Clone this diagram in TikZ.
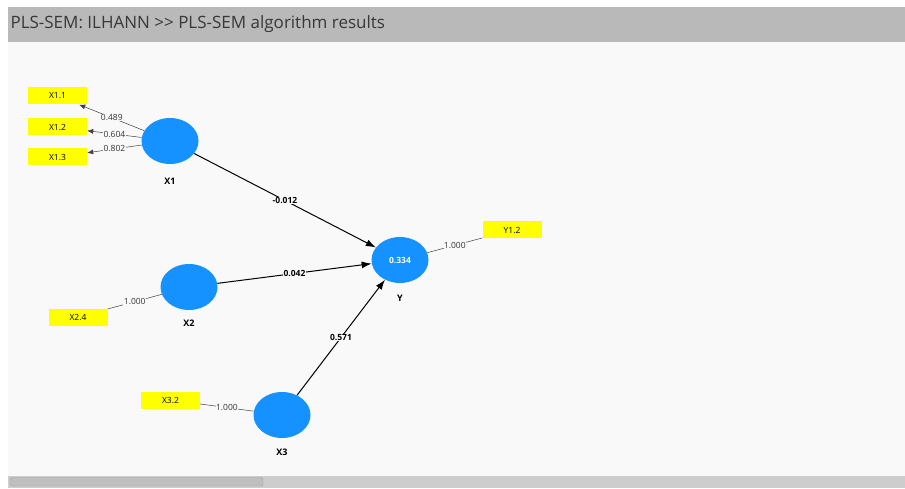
\documentclass[tikz,border=0pt]{standalone}
\usepackage{fontspec}
\setmainfont{Open Sans}
\usetikzlibrary{shapes.geometric,arrows.meta}

\begin{document}
\begin{tikzpicture}[x=1pt,y=-1pt,
	latent/.style={ellipse,fill=plsblue,minimum width=57pt,minimum height=46pt,inner sep=0pt,text=white,font=\bfseries\fontsize{8.5}{9}\selectfont},
	indicator/.style={fill=plsyellow,minimum width=59pt,minimum height=17pt,inner sep=0pt,font=\fontsize{8.5}{9}\selectfont},
	caption/.style={font=\bfseries\fontsize{9}{10}\selectfont},
	weight/.style={fill=canvas,inner sep=0.4pt,font=\fontsize{8.5}{9}\selectfont,text=black!80},
	coef/.style={fill=canvas,inner sep=0.4pt,font=\bfseries\fontsize{8.5}{9}\selectfont},
	outer/.style={draw=black!75,line width=0.5pt},
	inner/.style={draw=black,line width=1pt,-{Latex[length=10pt,width=7pt]}}
	]
	\definecolor{plsblue}{HTML}{1592FF}
	\definecolor{plsyellow}{HTML}{FFFF00}
	\definecolor{canvas}{HTML}{F9F9F9}
	\definecolor{titlebar}{HTML}{B9B9B9}
	\definecolor{track}{HTML}{CDCDCD}
	
	% window
	\fill[white] (0,0) rectangle (905,489);
	\fill[titlebar] (8,7) rectangle (905,42);
	\fill[canvas] (8,42) rectangle (905,476);
	\fill[track] (8,476) rectangle (905,488);
	\draw[fill=black!25,draw=black!38,rounded corners=2pt] (10,477.5) rectangle (263,486);
	\node[anchor=base west,font=\fontsize{17}{20}\selectfont,text=black!78] (title) at (7,29) {PLS-SEM: ILHANN {>}{>} PLS-SEM algorithm results};
	
	% constructs
	\node[latent] (X1) at (170,141) {};
	\node[latent] (X2) at (189,287) {};
	\node[latent] (X3) at (282,415) {};
	\node[latent] (Y) at (400,260) {0.334};
	
	\node[caption] (X1cap) at (170,181) {X1};
	\node[caption] (X2cap) at (189,323) {X2};
	\node[caption] (X3cap) at (282,452) {X3};
	\node[caption] (Ycap) at (400,298) {Y};
	
	% indicators
	\node[indicator] (X11) at (57.5,96) {X1.1};
	\node[indicator] (X12) at (57.5,127) {X1.2};
	\node[indicator] (X13) at (57.5,157) {X1.3};
	\node[indicator] (X24) at (78,317) {X2.4};
	\node[indicator] (X32) at (170.5,400) {X3.2};
	\node[indicator] (Y12) at (512,230) {Y1.2};
	
	% outer loadings
	\draw[outer,-{Latex[length=6pt,width=5pt]}] (X1) -- node[weight] {0.489} (X11);
	\draw[outer,-{Latex[length=6pt,width=5pt]}] (X1) -- node[weight] {0.604} (X12);
	\draw[outer,-{Latex[length=6pt,width=5pt]}] (X1) -- node[weight] {0.802} (X13);
	\draw[outer] (X2) -- node[weight] {1.000} (X24);
	\draw[outer] (X3) -- node[weight] {1.000} (X32);
	\draw[outer] (Y) -- node[weight] {1.000} (Y12);
	
	% path coefficients
	\draw[inner] (X1) -- node[coef] {-0.012} (Y);
	\draw[inner] (X2) -- node[coef] {0.042} (Y);
	\draw[inner] (X3) -- node[coef] {0.571} (Y);
\end{tikzpicture}
\end{document}
